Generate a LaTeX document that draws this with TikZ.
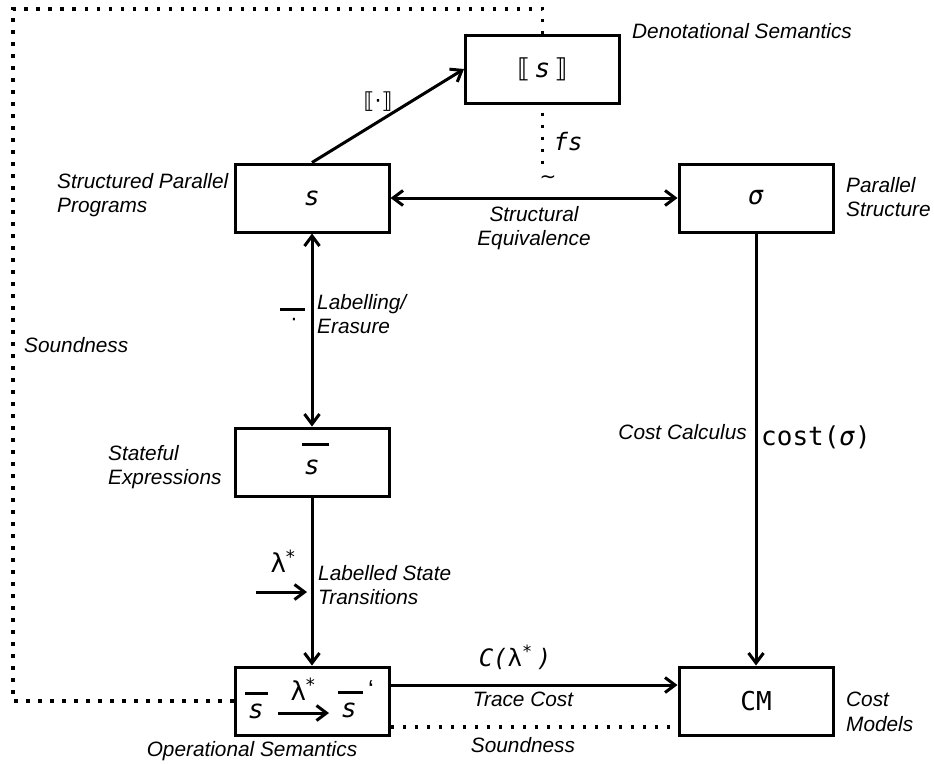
\documentclass[tikz,border=0pt]{standalone}
\usepackage{fontspec}
\setmainfont{Liberation Sans}
\newfontfamily\monof{DejaVu Sans Mono}
\newfontfamily\dvs{DejaVu Sans}
\usetikzlibrary{arrows.meta}
\newcommand\symsize{\fontsize{26}{30}\selectfont}
\tikzset{
  barb/.tip={Straight Barb[length=10pt,width=15pt]},
  box/.style={draw, line width=3pt, minimum width=154pt, minimum height=68pt, inner sep=0pt},
  lbl/.style={font=\fontsize{20.8}{24.5}\selectfont\itshape, inner sep=0pt, align=left},
  sym/.style={font=\symsize\monof\itshape, inner sep=0pt},
  conn/.style={line width=3pt, -barb},
  dconn/.style={line width=3pt, barb-barb},
  dots/.style={line width=3.2pt, dash pattern=on 3.2pt off 8.8pt},
  barline/.style={line width=3pt},
}
\begin{document}
\begin{tikzpicture}[x=1pt,y=-1pt]
\useasboundingbox (0,0) rectangle (934,763);
% boxes
\node[box] (den) at (542.5,69) {\symsize{\dvs ⟦}\,{\monof\itshape s}\,{\dvs ⟧}};
\node[box] (sp) at (312,198) {\symsize\monof\itshape s};
\node[box] (sig) at (756,198) {\symsize\monof\itshape σ};
\node[box] (se) at (312,462) {};
\node[box] (op) at (312,701) {};
\node[box] (cm) at (756,701) {\symsize\monof CM};
% box contents with overlines
\node[sym] (se-s) at (312,467) {s};
\draw[barline] ([xshift=-10pt,yshift=23pt]se-s.center) -- ([xshift=17pt,yshift=23pt]se-s.center);
\node[sym] (op-s1) at (256,711) {s};
\draw[barline] ([xshift=-11pt,yshift=18pt]op-s1.center) -- ([xshift=12pt,yshift=18pt]op-s1.center);
\node[font=\symsize\dvs, inner sep=0pt] (op-lam) at (303,689) {λ\textsuperscript{*}};
\coordinate (op-a1) at (278,713);
\coordinate (op-a2) at (329,713);
\draw[conn] (op-a1) -- (op-a2);
\node[sym] (op-s2) at (349,710) {s};
\draw[barline] ([xshift=-11pt,yshift=18pt]op-s2.center) -- ([xshift=14pt,yshift=18pt]op-s2.center);
\node[font=\symsize, inner sep=0pt] (op-q) at (371,690) {‘};
% connectors
\draw[conn] (sp.north) -- (den.west);
\draw[dconn] (sp.east) -- (sig.west);
\draw[dconn] (sp.south) -- (se.north);
\draw[conn] (se.south) -- (op.north);
\draw[conn] (sig.south) -- (cm.north);
\draw[conn] ([yshift=16pt]op.east) -- ([yshift=16pt]cm.west);
% dotted lines
\coordinate (lp1) at (13,701);
\coordinate (lp2) at (13,9);
\coordinate (lp3) at (542.5,9);
\draw[dots] (op.west) -- (lp1) -- (lp2) -- (lp3) -- (den.north);
\coordinate (fsend) at (542.5,167);
\draw[dots, dash phase=-8pt] (den.south) -- (fsend);
\draw[dots] ([yshift=-26pt]op.east) -- ([yshift=-26pt]cm.west);
% small transition arrow
\node[font=\symsize\dvs, inner sep=0pt] (l-lam) at (283,561) {λ\textsuperscript{*}};
\coordinate (ta1) at (256,592);
\coordinate (ta2) at (307,592);
\draw[conn] (ta1) -- (ta2);
% math labels
\node[font=\fontsize{22}{24}\selectfont\dvs, inner sep=0pt] (l-sem) at (378,102) {⟦·⟧};
\node[font=\fontsize{24}{28}\selectfont\monof\itshape, inner sep=0pt] (l-fs) at (568,142) {fs};
\node[font=\fontsize{20}{20}\selectfont\dvs, inner sep=0pt] (l-sim) at (548,180) {\textasciitilde};
\node[font=\fontsize{20}{20}\selectfont\dvs, inner sep=0pt] (l-dot) at (294,322) {·};
\draw[barline] ([xshift=-14pt,yshift=13pt]l-dot.center) -- ([xshift=11pt,yshift=13pt]l-dot.center);
\node[font=\symsize, inner sep=0pt, anchor=west] (l-cost) at (761,437) {{\monof cost(}{\monof\itshape σ}{\monof )}};
\node[font=\fontsize{24}{28}\selectfont\monof\itshape, inner sep=0pt] (l-C) at (515,657) {C({\upshape λ}\textsuperscript{*}\,)};
% text labels
\node[lbl, anchor=west] (l-den) at (632,31) {Denotational Semantics};
\node[lbl, anchor=west] (l-sp) at (57,195) {Structured Parallel\\Programs};
\node[lbl, anchor=west] (l-sig) at (846,197) {Parallel\\Structure};
\node[lbl, anchor=west] (l-snd1) at (24,345) {Soundness};
\node[lbl, align=center] (l-seq) at (534,228) {Structural\\Equivalence};
\node[lbl, anchor=west] (l-lab) at (317,314) {Labelling/\\Erasure};
\node[lbl, anchor=west] (l-stf) at (108,467) {Stateful\\Expressions};
\node[lbl, anchor=west] (l-lst) at (318,585) {Labelled State\\Transitions};
\node[lbl, anchor=east] (l-cc) at (747,432) {Cost Calculus};
\node[lbl] (l-tc) at (523,699) {Trace Cost};
\node[lbl] (l-snd2) at (523,745) {Soundness};
\node[lbl] (l-ops) at (252,751) {Operational Semantics};
\node[lbl, anchor=west] (l-cm) at (846,712) {Cost\\Models};
\end{tikzpicture}
\end{document}
